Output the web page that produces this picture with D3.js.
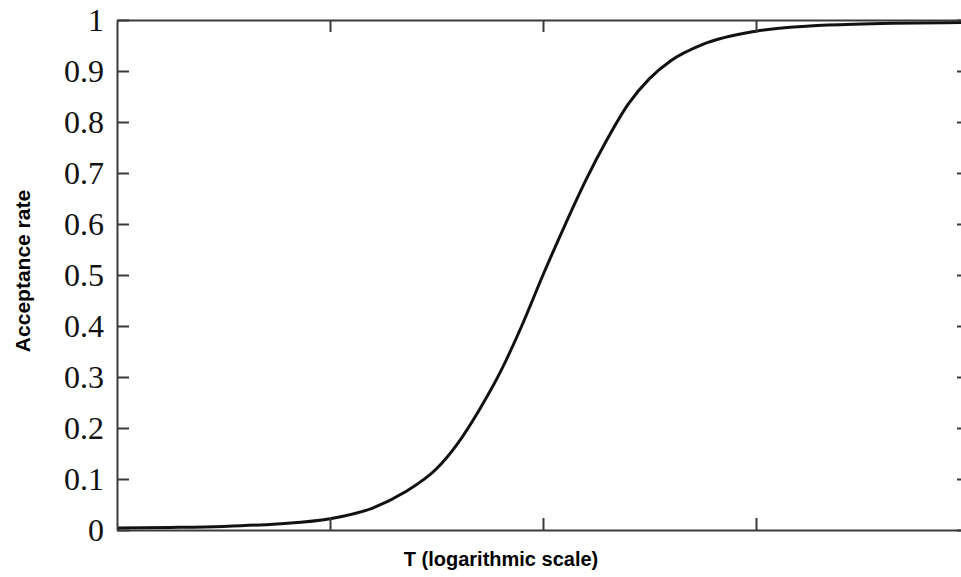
<!DOCTYPE html>
<html><head><meta charset="utf-8">
<script src="https://cdn.jsdelivr.net/npm/d3@7"></script>
<style>body{margin:0;background:#fff;}svg{display:block;}</style>
</head><body>
<script>
// Data (T on a log scale, arbitrary units: log10 T)
const logT = [0.0, 0.25, 0.5, 0.75, 1.0, 1.2, 1.35, 1.5, 1.6, 1.7, 1.8, 1.9, 2.0, 2.1, 2.2, 2.3, 2.4, 2.5, 2.6, 2.75, 3.0, 3.25, 3.5, 4.0];
const acceptance = [0.004, 0.005, 0.007, 0.012, 0.022, 0.043, 0.074, 0.12, 0.17, 0.235, 0.31, 0.40, 0.50, 0.595, 0.685, 0.765, 0.835, 0.885, 0.92, 0.952, 0.978, 0.988, 0.992, 0.995];
const yTicks = [0, 0.1, 0.2, 0.3, 0.4, 0.5, 0.6, 0.7, 0.8, 0.9, 1];
const yTickLabels = ["0", "0.1", "0.2", "0.3", "0.4", "0.5", "0.6", "0.7", "0.8", "0.9", "1"];
const xTicks = [10, 100, 1000];
const xLabel = "T (logarithmic scale)";
const yLabel = "Acceptance rate";

(function () {
const W = 961, H = 577;
const m = {left: 117, top: 20, right: -8, bottom: 47};
const svg = d3.select("body").append("svg").attr("width", W).attr("height", H);

const x = d3.scaleLog().domain([1, 10000]).range([m.left, W - m.right]);
const y = d3.scaleLinear().domain([0, 1]).range([H - m.bottom, m.top]);

const pts = logT.map((l, i) => ({T: Math.pow(10, l), a: acceptance[i]}));

const frameCol = "#3a3a3a";
const tickLen = 12;

svg.append("path").datum(pts)
  .attr("fill", "none").attr("stroke", "#111").attr("stroke-width", 3)
  .attr("d", d3.line().x(d => x(d.T)).y(d => y(d.a)).curve(d3.curveMonotoneX));

const fmt = (d) => yTickLabels[yTicks.indexOf(d)] ?? "";
const gLeft = svg.append("g").attr("transform", `translate(${m.left},0)`)
  .call(d3.axisLeft(y).tickValues(yTicks).tickSizeInner(-tickLen).tickSizeOuter(0).tickPadding(13).tickFormat(fmt));
const gRight = svg.append("g").attr("transform", `translate(${W - m.right},0)`)
  .call(d3.axisRight(y).tickValues(yTicks).tickSizeInner(-tickLen).tickSizeOuter(0).tickFormat(""));
const gBottom = svg.append("g").attr("transform", `translate(0,${H - m.bottom})`)
  .call(d3.axisBottom(x).tickValues(xTicks).tickSizeInner(-tickLen).tickSizeOuter(0).tickFormat(""));
const gTop = svg.append("g").attr("transform", `translate(0,${m.top})`)
  .call(d3.axisTop(x).tickValues(xTicks).tickSizeInner(-tickLen).tickSizeOuter(0).tickFormat(""));

[gLeft, gRight, gBottom, gTop].forEach(g => {
  g.selectAll(".domain").attr("stroke", frameCol).attr("stroke-width", 2);
  g.selectAll(".tick line").attr("stroke", frameCol).attr("stroke-width", 2);
});
gLeft.selectAll(".tick text")
  .attr("font-family", "'Liberation Serif', 'Times New Roman', serif")
  .attr("font-size", 32).attr("fill", "#111");

svg.append("text").attr("x", 501).attr("y", 566).attr("text-anchor", "middle")
  .attr("font-family", "'Liberation Sans', Arial, sans-serif").attr("font-weight", "bold")
  .attr("font-size", 20).attr("fill", "#000").text(xLabel);
svg.append("text").attr("transform", "translate(30,271) rotate(-90)").attr("text-anchor", "middle")
  .attr("font-family", "'Liberation Sans', Arial, sans-serif").attr("font-weight", "bold")
  .attr("font-size", 21).attr("fill", "#000").text(yLabel);
})();
</script>
</body></html>
